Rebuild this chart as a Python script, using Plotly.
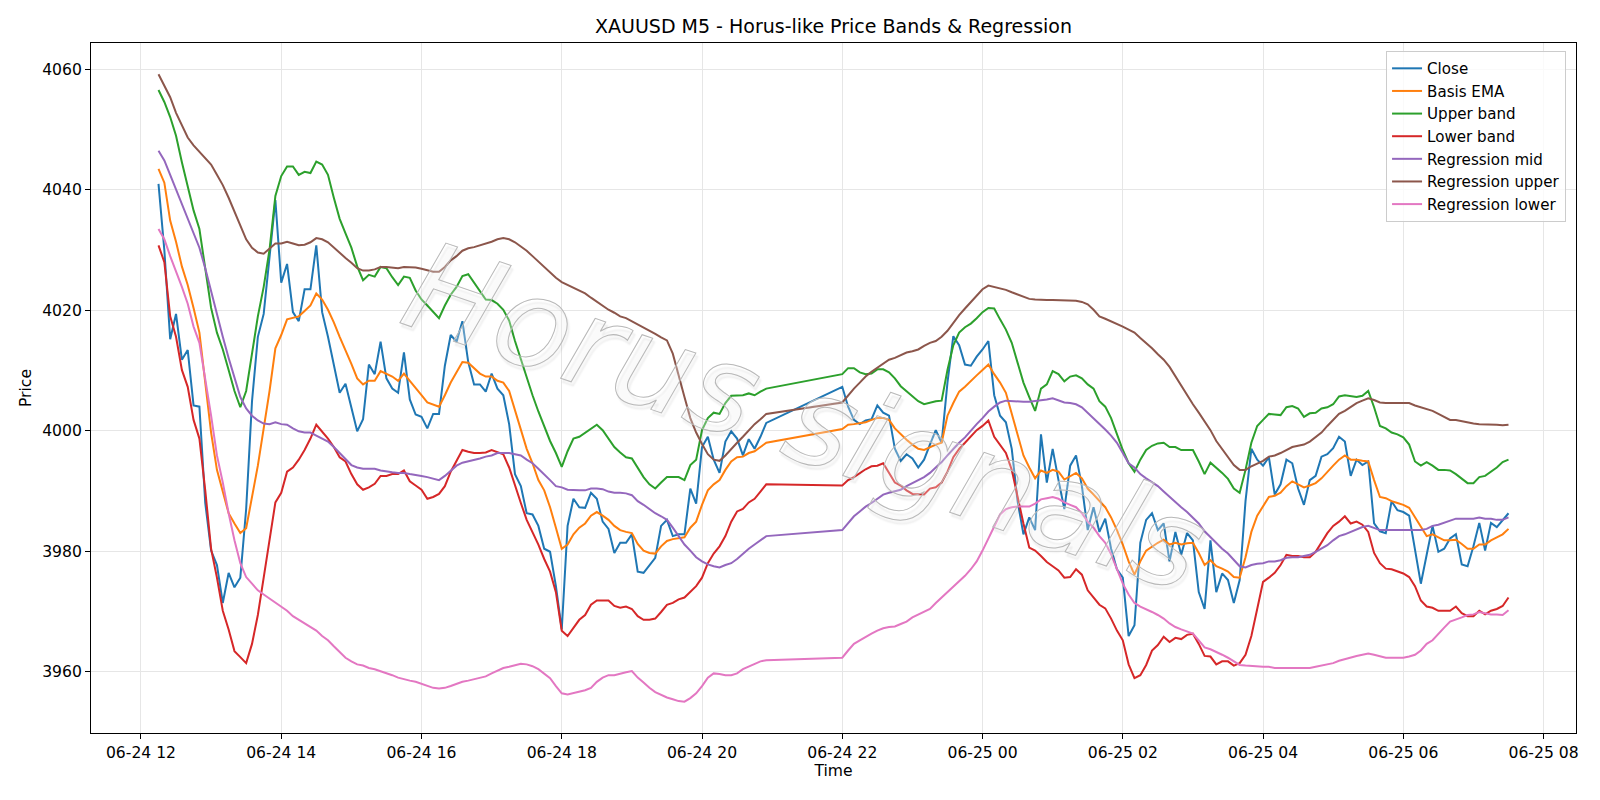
import pandas as pd
import plotly.graph_objects as go

# ---- time index (M5 bars, with the 21:00-21:55 daily break missing) ----
all_times = pd.date_range("2025-06-24 12:15", "2025-06-25 07:30", freq="5min")
gap = (all_times >= "2025-06-24 21:00") & (all_times <= "2025-06-24 21:55")
times = all_times[~gap]

close = [
    4041.0, 4030.0, 4015.2, 4019.4, 4011.8, 4013.4, 4004.2, 4004.0, 3988.0, 3980.1,
    3977.7, 3971.4, 3976.4, 3974.0, 3975.6, 3987.0, 4004.9, 4015.6, 4019.4, 4028.7,
    4038.3, 4024.6, 4027.7, 4019.7, 4018.2, 4023.5, 4023.5, 4030.8, 4019.7, 4015.6,
    4011.1, 4006.3, 4007.8, 4003.9, 3999.9, 4001.9, 4011.0, 4009.4, 4014.8, 4008.7,
    4007.0, 4006.3, 4013.0, 4005.2, 4002.7, 4002.3, 4000.4, 4002.8, 4002.8, 4010.8,
    4015.9, 4014.8, 4018.2, 4011.4, 4007.7, 4007.7, 4006.5, 4009.5, 4007.0, 4005.9,
    4001.1, 3992.8, 3990.8, 3986.3, 3986.1, 3984.2, 3980.4, 3979.9, 3974.2, 3967.0,
    3984.2, 3988.7, 3987.3, 3987.2, 3989.7, 3988.7, 3984.9, 3983.7, 3979.7, 3981.4,
    3981.4, 3982.8, 3976.6, 3976.4, 3977.7, 3978.9, 3984.2, 3985.2, 3982.5, 3982.8,
    3982.8, 3990.4, 3987.9, 3997.3, 3999.0, 3995.2, 3993.0, 3998.2, 3999.9, 3998.7,
    3995.9, 3998.6, 3997.0, 3999.0, 4001.3,
    4007.3, 4004.0, 4001.8, 4001.1, 4001.7, 4001.9, 4004.2, 4003.0, 4002.5, 3997.0,
    3995.0, 3996.1, 3995.4, 3993.9, 3995.2, 3997.7, 4000.1, 3998.0, 4008.0, 4015.7,
    4014.2, 4011.0, 4010.8, 4012.3, 4013.5, 4014.9, 4005.9, 4002.5, 4001.4, 3997.0,
    3988.3, 3982.8, 3985.6, 3983.5, 3999.4, 3991.4, 3997.0, 3991.8, 3987.0, 3994.2,
    3995.9, 3990.8, 3983.5, 3987.3, 3983.2, 3985.4, 3980.4, 3977.0, 3975.6, 3965.9,
    3967.7, 3981.4, 3985.2, 3986.3, 3983.5, 3984.6, 3978.3, 3983.2, 3979.4, 3983.0,
    3981.8, 3973.2, 3970.4, 3981.8, 3973.2, 3976.3, 3975.2, 3971.4, 3975.2, 3988.3,
    3997.0, 3995.2, 3994.2, 3995.6, 3989.4, 3991.1, 3995.2, 3994.6, 3990.4, 3987.7,
    3991.8, 3992.5, 3995.7, 3996.1, 3997.1, 3999.0, 3998.2, 3992.5, 3995.2, 3994.3,
    3994.9, 3984.6, 3983.3, 3983.0, 3988.3, 3986.8, 3986.5, 3985.9, 3980.4, 3974.6,
    3979.4, 3984.2, 3979.9, 3980.4, 3982.1, 3982.8, 3977.8, 3977.5, 3980.8, 3984.7,
    3980.1, 3984.7, 3984.0, 3985.2, 3986.3,
]

basis_ema = [
    4043.5, 4041.2, 4034.9, 4031.4, 4027.3, 4024.2, 4020.4, 4016.3, 4008.0, 3999.7,
    3993.5, 3989.7, 3986.3, 3984.6, 3983.0, 3983.8, 3988.7, 3994.2, 4000.4, 4006.6,
    4013.7, 4015.9, 4018.5, 4018.7, 4019.0, 4019.9, 4020.8, 4022.8, 4021.8, 4020.1,
    4018.0, 4015.6, 4013.5, 4011.1, 4008.7, 4007.7, 4008.3, 4008.3, 4009.9, 4009.5,
    4009.0, 4008.3, 4009.5, 4008.3, 4007.0, 4005.9, 4004.7, 4004.4, 4004.0, 4005.9,
    4008.0, 4009.7, 4011.4, 4011.3, 4010.4, 4009.5, 4009.0, 4009.0, 4008.3, 4008.0,
    4006.6, 4003.5, 4000.4, 3997.0, 3994.6, 3991.8, 3990.1, 3987.3, 3983.9, 3980.4,
    3981.1, 3982.8, 3983.9, 3984.6, 3985.9, 3986.5, 3985.9, 3985.2, 3984.2, 3983.5,
    3983.2, 3983.0, 3981.2, 3980.1, 3979.7, 3979.6, 3980.8, 3981.7, 3982.0, 3982.1,
    3982.3, 3983.9, 3984.9, 3987.7, 3990.1, 3991.1, 3991.8, 3993.5, 3994.9, 3995.6,
    3995.7, 3996.3, 3996.6, 3997.3, 3998.0,
    4000.3, 4001.0, 4001.1, 4001.2, 4001.4, 4001.8, 4002.1, 4002.1, 4001.8, 4000.4,
    3999.4, 3998.5, 3997.7, 3997.0, 3996.8, 3997.3, 3997.7, 3998.0, 4002.5, 4004.6,
    4006.5, 4007.3, 4008.3, 4009.2, 4010.1, 4011.0, 4009.4, 4008.0, 4006.3, 4002.8,
    3999.0, 3995.9, 3993.9, 3992.1, 3993.4, 3993.0, 3993.5, 3993.2, 3991.9, 3992.5,
    3993.0, 3992.1, 3990.4, 3989.4, 3988.3, 3987.3, 3985.6, 3983.5, 3981.1, 3978.3,
    3976.1, 3978.3, 3980.1, 3980.8, 3981.4, 3981.9, 3981.1, 3981.4, 3981.1, 3981.3,
    3981.4, 3979.7, 3977.7, 3978.5, 3977.5, 3977.1, 3976.6, 3975.7, 3975.6, 3979.0,
    3983.2, 3985.9, 3987.4, 3989.0, 3989.2, 3989.7, 3990.8, 3991.6, 3991.1, 3990.6,
    3990.9, 3991.3, 3992.1, 3993.2, 3994.2, 3995.2, 3995.9, 3995.2, 3995.2, 3995.0,
    3994.9, 3991.8, 3989.0, 3988.8, 3988.3, 3988.0, 3987.7, 3987.2, 3985.6, 3983.9,
    3982.5, 3982.8, 3982.3, 3981.8, 3981.8, 3981.9, 3981.2, 3980.4, 3980.4, 3981.1,
    3981.1, 3981.8, 3982.3, 3982.8, 3983.7,
]

upper_band = [
    4056.6, 4054.6, 4052.1, 4049.0, 4044.6, 4040.4, 4036.6, 4033.5, 4026.6, 4020.4,
    4016.3, 4013.5, 4010.1, 4006.6, 4003.9, 4006.6, 4012.8, 4019.0, 4023.9, 4030.1,
    4039.0, 4042.3, 4043.9, 4043.9, 4042.5, 4043.0, 4042.8, 4044.7, 4044.2, 4042.5,
    4038.7, 4035.2, 4032.8, 4030.4, 4027.3, 4025.0, 4025.9, 4025.6, 4027.2, 4027.0,
    4025.5, 4024.2, 4025.6, 4025.4, 4023.3, 4021.8, 4020.8, 4019.7, 4018.7, 4020.8,
    4022.6, 4023.9, 4025.7, 4026.0, 4024.6, 4023.2, 4021.8, 4021.7, 4021.1, 4020.1,
    4018.3, 4014.9, 4011.8, 4008.7, 4005.9, 4003.2, 4000.8, 3998.3, 3996.3, 3994.0,
    3996.6, 3998.7, 3999.0, 3999.7, 4000.4, 4001.0, 4000.1, 3998.7, 3997.3, 3996.4,
    3995.6, 3995.4, 3993.9, 3992.3, 3991.1, 3990.4, 3991.4, 3992.3, 3992.3, 3992.3,
    3991.8, 3994.3, 3995.2, 4000.1, 4002.1, 4003.0, 4002.8, 4004.6, 4005.8, 4005.9,
    4005.9, 4006.2, 4005.9, 4006.5, 4007.0,
    4009.4, 4010.4, 4010.4, 4009.7, 4009.4, 4009.5, 4010.2, 4010.2, 4009.7, 4008.7,
    4007.4, 4006.6, 4005.8, 4004.9, 4004.4, 4004.7, 4004.9, 4005.0, 4010.1, 4014.2,
    4016.3, 4017.2, 4017.8, 4018.7, 4019.7, 4020.4, 4020.3, 4018.5, 4016.8, 4014.6,
    4011.4, 4008.0, 4005.6, 4003.3, 4007.0, 4007.7, 4009.9, 4009.4, 4008.2, 4009.0,
    4009.2, 4008.7, 4007.7, 4007.0, 4004.9, 4004.0, 4002.1, 3999.4, 3996.8, 3994.6,
    3993.2, 3995.2, 3996.8, 3997.5, 3997.9, 3998.0, 3997.3, 3997.3, 3996.8, 3996.8,
    3996.8, 3994.9, 3992.8, 3994.7, 3993.9, 3993.0, 3992.0, 3990.4, 3989.7, 3993.5,
    3998.0, 4000.8, 4001.8, 4002.8, 4002.7, 4002.6, 4003.9, 4004.1, 4003.7, 4002.3,
    4002.9, 4003.0, 4003.7, 4003.9, 4004.4, 4005.7, 4005.9, 4005.8, 4005.6, 4005.8,
    4006.6, 4003.9, 4000.8, 4000.4, 3999.7, 3999.4, 3998.9, 3997.7, 3994.9, 3994.2,
    3994.8, 3994.2, 3993.5, 3993.5, 3993.4, 3992.8, 3992.1, 3991.3, 3991.3, 3992.3,
    3992.5, 3993.2, 3993.9, 3994.8, 3995.2,
]

lower_band = [
    4030.8, 4028.0, 4019.0, 4015.6, 4010.1, 4007.3, 4001.8, 3998.7, 3990.1, 3980.4,
    3975.6, 3970.1, 3967.0, 3963.4, 3962.4, 3961.4, 3964.6, 3969.4, 3975.6, 3981.8,
    3988.1, 3989.7, 3993.2, 3993.9, 3995.2, 3996.8, 3998.7, 4001.0, 3999.9, 3998.7,
    3997.3, 3995.6, 3994.9, 3992.8, 3991.1, 3990.2, 3990.6, 3991.2, 3992.5, 3992.5,
    3992.8, 3992.8, 3993.4, 3991.6, 3990.9, 3990.2, 3988.7, 3989.0, 3989.5, 3990.8,
    3993.2, 3994.9, 3996.8, 3996.5, 3996.3, 3996.3, 3996.4, 3996.8, 3996.4, 3996.1,
    3993.9, 3990.8, 3988.0, 3985.2, 3983.2, 3981.1, 3978.7, 3976.6, 3973.2, 3966.8,
    3965.9, 3967.3, 3968.6, 3969.4, 3971.1, 3971.8, 3971.8, 3971.8, 3970.9, 3970.6,
    3970.8, 3970.4, 3969.2, 3968.6, 3968.6, 3968.8, 3969.9, 3971.1, 3971.4, 3972.0,
    3972.3, 3973.2, 3974.2, 3975.6, 3978.0, 3979.6, 3980.8, 3982.5, 3984.9, 3986.6,
    3987.0, 3988.1, 3988.7, 3989.9, 3991.1,
    3990.9, 3991.8, 3992.3, 3993.0, 3993.6, 3994.1, 3994.2, 3994.6, 3993.0, 3991.4,
    3990.9, 3990.1, 3989.5, 3989.4, 3989.4, 3990.4, 3990.6, 3991.4, 3993.2, 3995.6,
    3997.0, 3998.0, 3999.0, 4000.1, 4000.8, 4001.7, 3999.0, 3997.7, 3996.3, 3993.5,
    3989.0, 3984.6, 3980.6, 3980.1, 3979.2, 3978.2, 3977.5, 3976.8, 3975.6, 3975.7,
    3977.0, 3976.1, 3973.5, 3972.3, 3971.1, 3970.5, 3968.8, 3966.8, 3965.2, 3961.2,
    3958.9, 3959.4, 3961.1, 3963.5, 3964.4, 3965.8, 3964.9, 3965.6, 3965.4, 3966.1,
    3966.3, 3964.6, 3962.6, 3962.5, 3961.2, 3961.7, 3961.7, 3961.0, 3961.4, 3962.8,
    3965.9, 3970.4, 3974.9, 3975.6, 3976.4, 3977.7, 3979.4, 3979.2, 3979.2, 3979.0,
    3979.0, 3979.9, 3981.4, 3983.0, 3984.2, 3984.9, 3985.8, 3984.6, 3984.9, 3984.4,
    3983.2, 3979.7, 3978.0, 3977.1, 3977.0, 3976.6, 3976.3, 3975.7, 3974.2, 3971.8,
    3970.8, 3970.6, 3970.1, 3970.1, 3970.1, 3970.8, 3969.7, 3969.2, 3969.2, 3970.1,
    3969.5, 3970.1, 3970.4, 3970.9, 3972.3,
]

regression_mid = [
    4046.5, 4044.9, 4042.5, 4040.1, 4037.7, 4035.2, 4032.8, 4030.4, 4027.0, 4023.2,
    4019.0, 4015.6, 4012.1, 4008.7, 4005.6, 4003.7, 4002.5, 4001.7, 4001.2, 4001.1,
    4001.4, 4001.1, 4001.0, 4000.4, 3999.9, 3999.7, 3999.7, 3999.2, 3998.7, 3998.2,
    3997.3, 3996.3, 3995.2, 3994.3, 3993.9, 3993.7, 3993.7, 3993.7, 3993.4, 3993.2,
    3993.1, 3993.0, 3993.0, 3992.8, 3992.7, 3992.5, 3992.3, 3992.0, 3991.8, 3992.5,
    3993.4, 3994.2, 3994.7, 3994.9, 3995.2, 3995.4, 3995.7, 3995.9, 3996.3, 3996.3,
    3996.3, 3996.1, 3995.9, 3995.2, 3994.6, 3993.7, 3992.8, 3991.8, 3990.8, 3990.6,
    3990.2, 3990.1, 3990.1, 3990.1, 3990.4, 3990.4, 3990.3, 3989.9, 3989.7, 3989.7,
    3989.6, 3989.3, 3988.3, 3987.7, 3987.0, 3986.3, 3985.8, 3985.2, 3983.9, 3982.5,
    3981.1, 3980.1, 3979.0, 3978.3, 3977.8, 3977.5, 3977.3, 3977.7, 3978.0, 3978.7,
    3979.6, 3980.4, 3981.1, 3981.8, 3982.5,
    3983.5, 3984.7, 3985.8, 3986.6, 3987.4, 3988.0, 3988.7, 3989.4, 3989.7, 3989.9,
    3990.2, 3990.8, 3991.3, 3991.8, 3992.3, 3993.0, 3993.9, 3994.8, 3995.9, 3997.0,
    3998.0, 3998.9, 4000.1, 4001.1, 4002.1, 4003.2, 4004.0, 4004.7, 4005.0, 4004.9,
    4004.8, 4004.8, 4004.8, 4004.9, 4005.1, 4005.2, 4005.4, 4005.1, 4004.7, 4004.6,
    4004.4, 4003.9, 4003.0, 4002.1, 4001.1, 4000.2, 3999.2, 3998.0, 3996.3, 3994.6,
    3993.9, 3992.8, 3992.1, 3991.4, 3990.8, 3989.9, 3989.0, 3988.1, 3987.3, 3986.5,
    3985.6, 3984.6, 3983.3, 3982.3, 3981.4, 3980.4, 3979.6, 3978.5, 3977.5, 3977.3,
    3977.7, 3977.9, 3978.0, 3978.3, 3978.3, 3978.5, 3978.9, 3979.0, 3979.0, 3979.2,
    3979.4, 3979.9, 3980.4, 3981.0, 3981.8, 3982.5, 3982.8, 3983.2, 3983.5, 3984.0,
    3984.2, 3983.9, 3983.5, 3983.5, 3983.5, 3983.5, 3983.5, 3983.5, 3983.5, 3983.5,
    3983.7, 3984.2, 3984.4, 3984.7, 3985.1, 3985.4, 3985.4, 3985.4, 3985.4, 3985.6,
    3985.4, 3985.4, 3985.2, 3985.2, 3985.6,
]

regression_upper = [
    4059.2, 4057.3, 4055.4, 4052.8, 4050.8, 4048.7, 4047.4, 4046.3, 4045.2, 4044.2,
    4042.5, 4040.8, 4038.7, 4036.4, 4033.9, 4031.8, 4030.4, 4029.6, 4029.4, 4030.2,
    4031.1, 4031.1, 4031.4, 4031.1, 4030.8, 4030.9, 4031.3, 4032.0, 4031.8, 4031.3,
    4030.4, 4029.5, 4028.7, 4027.9, 4027.0, 4026.6, 4026.6, 4026.8, 4027.2, 4027.2,
    4027.1, 4027.0, 4027.2, 4027.2, 4027.1, 4026.9, 4026.6, 4026.4, 4026.4, 4027.2,
    4028.3, 4029.0, 4029.9, 4030.3, 4030.5, 4030.8, 4031.0, 4031.4, 4031.8, 4032.0,
    4031.8, 4031.3, 4030.6, 4029.9, 4029.0, 4028.1, 4027.3, 4026.3, 4025.4, 4024.7,
    4024.2, 4023.7, 4023.3, 4022.8, 4022.1, 4021.4, 4020.8, 4020.1, 4019.6, 4019.0,
    4018.7, 4018.2, 4017.7, 4017.2, 4016.6, 4016.1, 4015.5, 4015.0, 4012.8, 4009.4,
    4005.6, 4002.1, 3999.7, 3997.8, 3996.1, 3995.2, 3995.0, 3995.9, 3997.0, 3998.0,
    3999.0, 4000.1, 4001.1, 4001.9, 4002.8,
    4004.7, 4005.9, 4007.0, 4008.0, 4009.0, 4009.8, 4010.5, 4011.2, 4011.8, 4012.1,
    4012.5, 4013.0, 4013.2, 4013.5, 4014.1, 4014.6, 4014.9, 4015.6, 4016.6, 4018.0,
    4019.2, 4020.3, 4021.4, 4022.5, 4023.5, 4024.1, 4023.9, 4023.7, 4023.4, 4023.0,
    4022.6, 4022.3, 4021.9, 4021.8, 4021.7, 4021.7, 4021.7, 4021.7, 4021.7, 4021.6,
    4021.6, 4021.4, 4021.0, 4020.1, 4019.0, 4018.6, 4018.2, 4017.8, 4017.3, 4016.8,
    4016.3, 4015.4, 4014.6, 4013.7, 4012.7, 4011.8, 4010.6, 4009.0, 4007.4, 4005.9,
    4004.4, 4003.0, 4001.6, 4000.1, 3998.3, 3997.0, 3995.7, 3994.3, 3993.5, 3993.5,
    3994.1, 3994.6, 3995.0, 3995.7, 3995.9, 3996.3, 3996.8, 3997.3, 3997.5, 3997.7,
    3998.2, 3998.9, 3999.7, 4000.8, 4001.8, 4002.8, 4003.3, 4003.9, 4004.6, 4005.0,
    4005.4, 4005.1, 4004.7, 4004.6, 4004.6, 4004.6, 4004.6, 4004.6, 4004.2, 4003.9,
    4003.7, 4003.3, 4002.8, 4002.3, 4001.8, 4001.8, 4001.6, 4001.3, 4001.2, 4001.1,
    4001.1, 4001.0, 4001.0, 4000.9, 4001.0,
]

regression_lower = [
    4033.5, 4031.8, 4029.0, 4026.6, 4023.9, 4021.1, 4017.3, 4014.6, 4008.7, 4002.5,
    3995.9, 3991.4, 3986.3, 3981.8, 3978.0, 3975.7, 3974.6, 3973.5, 3972.8, 3972.1,
    3971.4, 3970.8, 3970.1, 3969.2, 3968.6, 3968.0, 3967.4, 3966.8, 3965.9, 3965.2,
    3964.2, 3963.2, 3962.3, 3961.7, 3961.2, 3961.0, 3960.6, 3960.4, 3960.1, 3959.7,
    3959.4, 3959.0, 3958.7, 3958.5, 3958.3, 3958.0, 3957.6, 3957.3, 3957.2, 3957.3,
    3957.6, 3958.0, 3958.3, 3958.5, 3958.7, 3958.9, 3959.2, 3959.7, 3960.1, 3960.6,
    3960.8, 3961.1, 3961.3, 3961.2, 3960.9, 3960.4, 3959.7, 3958.9, 3957.6, 3956.4,
    3956.2, 3956.4, 3956.6, 3956.9, 3957.3, 3958.3, 3959.0, 3959.4, 3959.4, 3959.7,
    3959.9, 3960.1, 3959.0, 3958.2, 3957.3, 3956.6, 3956.1, 3955.7, 3955.4, 3955.1,
    3955.0, 3955.6, 3956.4, 3957.6, 3959.0, 3959.7, 3959.6, 3959.4, 3959.4, 3959.7,
    3960.4, 3960.8, 3961.2, 3961.7, 3961.9,
    3962.3, 3963.5, 3964.6, 3965.2, 3965.8, 3966.3, 3966.8, 3967.2, 3967.4, 3967.5,
    3967.9, 3968.3, 3969.0, 3969.5, 3969.9, 3970.4, 3971.4, 3972.3, 3973.2, 3974.1,
    3974.9, 3975.9, 3977.0, 3978.3, 3980.1, 3982.1, 3984.2, 3986.1, 3987.0, 3987.3,
    3987.4, 3987.4, 3987.4, 3987.9, 3988.6, 3988.8, 3989.0, 3988.7, 3988.1, 3987.7,
    3987.3, 3986.3, 3984.9, 3983.9, 3982.5, 3981.4, 3979.5, 3977.0, 3974.6, 3972.8,
    3971.4, 3970.8, 3970.4, 3969.9, 3969.4, 3968.8, 3968.0, 3967.4, 3967.0, 3966.6,
    3966.3, 3965.2, 3964.0, 3963.7, 3963.3, 3962.8, 3962.3, 3961.7, 3961.1, 3961.0,
    3960.9, 3960.9, 3960.8, 3960.8, 3960.6, 3960.6, 3960.6, 3960.6, 3960.6, 3960.5,
    3960.6, 3960.8, 3961.0, 3961.2, 3961.4, 3961.8, 3962.1, 3962.4, 3962.6, 3962.8,
    3963.0, 3962.8, 3962.5, 3962.3, 3962.3, 3962.3, 3962.3, 3962.5, 3962.8, 3963.5,
    3964.6, 3965.2, 3966.3, 3967.3, 3968.3, 3968.6, 3969.0, 3969.4, 3969.5, 3969.9,
    3969.7, 3969.5, 3969.5, 3969.4, 3970.2,
]

series = [
    ("Close", close, "#1f77b4"),
    ("Basis EMA", basis_ema, "#ff7f0e"),
    ("Upper band", upper_band, "#2ca02c"),
    ("Lower band", lower_band, "#d62728"),
    ("Regression mid", regression_mid, "#9467bd"),
    ("Regression upper", regression_upper, "#8c564b"),
    ("Regression lower", regression_lower, "#e377c2"),
]

FONT = "DejaVu Sans"
fig = go.Figure()
for name, vals, color in series:
    fig.add_trace(go.Scatter(x=times, y=vals, mode="lines", name=name,
                             line=dict(color=color, width=2)))

tick_times = pd.date_range("2025-06-24 12:00", "2025-06-25 08:00", freq="2h")

fig.add_annotation(
    text='<span style="fill:rgba(255,255,255,0.55);stroke:#b8b8b8;stroke-width:1px">Horus signals</span>',
    xref="paper", yref="paper", x=0.481, y=0.458,
    xanchor="center", yanchor="middle", showarrow=False, textangle=19,
    font=dict(family=FONT, size=124, style="italic", color="rgba(255,255,255,0.55)",
              shadow="3px 3px 2px rgba(0,0,0,0.09)"),
)

fig.update_layout(
    width=1600, height=800,
    paper_bgcolor="white", plot_bgcolor="white",
    margin=dict(l=91, r=24, t=43, b=67),
    font=dict(family=FONT, size=15.6, color="black"),
    title=dict(text="XAUUSD M5 - Horus-like Price Bands & Regression",
               x=0.5, xref="paper", xanchor="center",
               y=1 - 26.7 / 800, yref="container", yanchor="middle",
               font=dict(family=FONT, size=19, color="black")),
    showlegend=True,
    legend=dict(x=0.9933, y=0.9884, xanchor="right", yanchor="top",
                bgcolor="rgba(255,255,255,0.8)", bordercolor="#cccccc", borderwidth=1,
                font=dict(family=FONT, size=15.1, color="black")),
    hovermode=False,
)
fig.update_xaxes(
    type="date",
    range=["2025-06-24 11:17:15", "2025-06-25 08:27:45"],
    tickvals=tick_times, tickformat="%m-%d %H",
    showgrid=True, gridcolor="#e6e6e6", gridwidth=1,
    showline=True, linecolor="black", linewidth=1, mirror=True,
    ticks="outside", ticklen=5, tickwidth=1, tickcolor="black",
    zeroline=False,
    title=dict(text="Time", standoff=4, font=dict(family=FONT, size=15.6)),
)
fig.update_yaxes(
    range=[3949.8, 4064.4],
    tick0=3960, dtick=20, tickformat="d",
    showgrid=True, gridcolor="#e6e6e6", gridwidth=1,
    showline=True, linecolor="black", linewidth=1, mirror=True,
    ticks="outside", ticklen=5, tickwidth=1, tickcolor="black",
    zeroline=False,
    title=dict(text="Price", standoff=6, font=dict(family=FONT, size=15.6)),
)

fig.write_html("out.html")
